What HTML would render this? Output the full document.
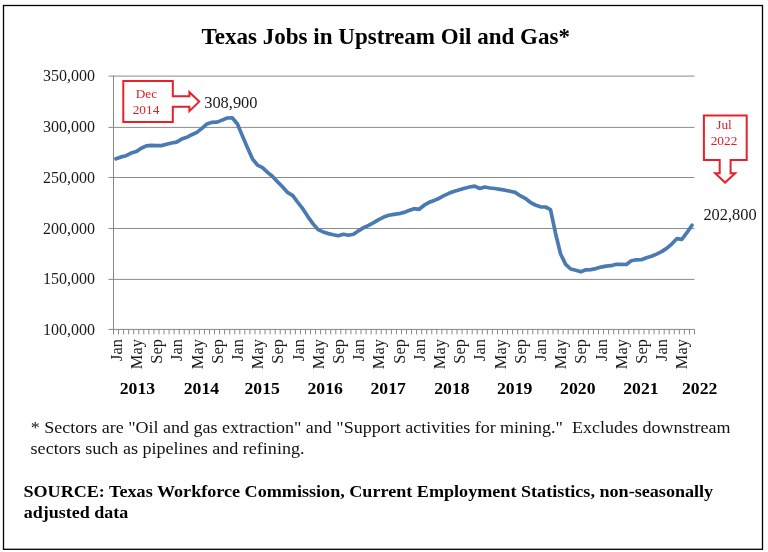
<!DOCTYPE html>
<html><head><meta charset="utf-8"><style>
html,body{margin:0;padding:0;background:#fff;width:768px;height:552px;overflow:hidden}
svg{position:absolute;left:0;top:0}
text{font-family:"Liberation Serif","Times New Roman",serif;white-space:pre;font-variant-ligatures:none}
.t16{font-size:16px;fill:#1a1a1a}
.mo{font-size:16.4px;fill:#1a1a1a}
.yr{font-size:17.7px;font-weight:bold;fill:#000}
.red{font-size:13.3px;fill:#dc2028}
.title{font-size:22.7px;font-weight:bold;fill:#000}
.note{font-size:16px;fill:#111}
.src{font-size:16px;font-weight:bold;fill:#000}
</style></head><body>
<svg width="768" height="552" viewBox="0 0 768 552">
<rect x="3.5" y="5.5" width="759" height="543.8" fill="#fff" stroke="#000" stroke-width="1.3"/>
<line x1="108.5" y1="76.1" x2="694.5" y2="76.1" stroke="#8c8c8c" stroke-width="1"/>
<line x1="108.5" y1="127.4" x2="694.5" y2="127.4" stroke="#8c8c8c" stroke-width="1"/>
<line x1="108.5" y1="177.5" x2="694.5" y2="177.5" stroke="#8c8c8c" stroke-width="1"/>
<line x1="108.5" y1="228.5" x2="694.5" y2="228.5" stroke="#8c8c8c" stroke-width="1"/>
<line x1="108.5" y1="279.4" x2="694.5" y2="279.4" stroke="#8c8c8c" stroke-width="1"/>
<line x1="113.5" y1="75.6" x2="113.5" y2="329.4" stroke="#868686" stroke-width="1"/>
<line x1="108.5" y1="329.4" x2="694.5" y2="329.4" stroke="#868686" stroke-width="1"/>
<line x1="113.50" y1="329.4" x2="113.50" y2="334.4" stroke="#868686" stroke-width="1"/>
<line x1="118.55" y1="329.4" x2="118.55" y2="334.4" stroke="#868686" stroke-width="1"/>
<line x1="123.60" y1="329.4" x2="123.60" y2="334.4" stroke="#868686" stroke-width="1"/>
<line x1="128.66" y1="329.4" x2="128.66" y2="334.4" stroke="#868686" stroke-width="1"/>
<line x1="133.71" y1="329.4" x2="133.71" y2="334.4" stroke="#868686" stroke-width="1"/>
<line x1="138.76" y1="329.4" x2="138.76" y2="334.4" stroke="#868686" stroke-width="1"/>
<line x1="143.81" y1="329.4" x2="143.81" y2="334.4" stroke="#868686" stroke-width="1"/>
<line x1="148.86" y1="329.4" x2="148.86" y2="334.4" stroke="#868686" stroke-width="1"/>
<line x1="153.92" y1="329.4" x2="153.92" y2="334.4" stroke="#868686" stroke-width="1"/>
<line x1="158.97" y1="329.4" x2="158.97" y2="334.4" stroke="#868686" stroke-width="1"/>
<line x1="164.02" y1="329.4" x2="164.02" y2="334.4" stroke="#868686" stroke-width="1"/>
<line x1="169.07" y1="329.4" x2="169.07" y2="334.4" stroke="#868686" stroke-width="1"/>
<line x1="174.12" y1="329.4" x2="174.12" y2="334.4" stroke="#868686" stroke-width="1"/>
<line x1="179.18" y1="329.4" x2="179.18" y2="334.4" stroke="#868686" stroke-width="1"/>
<line x1="184.23" y1="329.4" x2="184.23" y2="334.4" stroke="#868686" stroke-width="1"/>
<line x1="189.28" y1="329.4" x2="189.28" y2="334.4" stroke="#868686" stroke-width="1"/>
<line x1="194.33" y1="329.4" x2="194.33" y2="334.4" stroke="#868686" stroke-width="1"/>
<line x1="199.38" y1="329.4" x2="199.38" y2="334.4" stroke="#868686" stroke-width="1"/>
<line x1="204.44" y1="329.4" x2="204.44" y2="334.4" stroke="#868686" stroke-width="1"/>
<line x1="209.49" y1="329.4" x2="209.49" y2="334.4" stroke="#868686" stroke-width="1"/>
<line x1="214.54" y1="329.4" x2="214.54" y2="334.4" stroke="#868686" stroke-width="1"/>
<line x1="219.59" y1="329.4" x2="219.59" y2="334.4" stroke="#868686" stroke-width="1"/>
<line x1="224.64" y1="329.4" x2="224.64" y2="334.4" stroke="#868686" stroke-width="1"/>
<line x1="229.70" y1="329.4" x2="229.70" y2="334.4" stroke="#868686" stroke-width="1"/>
<line x1="234.75" y1="329.4" x2="234.75" y2="334.4" stroke="#868686" stroke-width="1"/>
<line x1="239.80" y1="329.4" x2="239.80" y2="334.4" stroke="#868686" stroke-width="1"/>
<line x1="244.85" y1="329.4" x2="244.85" y2="334.4" stroke="#868686" stroke-width="1"/>
<line x1="249.90" y1="329.4" x2="249.90" y2="334.4" stroke="#868686" stroke-width="1"/>
<line x1="254.96" y1="329.4" x2="254.96" y2="334.4" stroke="#868686" stroke-width="1"/>
<line x1="260.01" y1="329.4" x2="260.01" y2="334.4" stroke="#868686" stroke-width="1"/>
<line x1="265.06" y1="329.4" x2="265.06" y2="334.4" stroke="#868686" stroke-width="1"/>
<line x1="270.11" y1="329.4" x2="270.11" y2="334.4" stroke="#868686" stroke-width="1"/>
<line x1="275.16" y1="329.4" x2="275.16" y2="334.4" stroke="#868686" stroke-width="1"/>
<line x1="280.22" y1="329.4" x2="280.22" y2="334.4" stroke="#868686" stroke-width="1"/>
<line x1="285.27" y1="329.4" x2="285.27" y2="334.4" stroke="#868686" stroke-width="1"/>
<line x1="290.32" y1="329.4" x2="290.32" y2="334.4" stroke="#868686" stroke-width="1"/>
<line x1="295.37" y1="329.4" x2="295.37" y2="334.4" stroke="#868686" stroke-width="1"/>
<line x1="300.42" y1="329.4" x2="300.42" y2="334.4" stroke="#868686" stroke-width="1"/>
<line x1="305.48" y1="329.4" x2="305.48" y2="334.4" stroke="#868686" stroke-width="1"/>
<line x1="310.53" y1="329.4" x2="310.53" y2="334.4" stroke="#868686" stroke-width="1"/>
<line x1="315.58" y1="329.4" x2="315.58" y2="334.4" stroke="#868686" stroke-width="1"/>
<line x1="320.63" y1="329.4" x2="320.63" y2="334.4" stroke="#868686" stroke-width="1"/>
<line x1="325.68" y1="329.4" x2="325.68" y2="334.4" stroke="#868686" stroke-width="1"/>
<line x1="330.74" y1="329.4" x2="330.74" y2="334.4" stroke="#868686" stroke-width="1"/>
<line x1="335.79" y1="329.4" x2="335.79" y2="334.4" stroke="#868686" stroke-width="1"/>
<line x1="340.84" y1="329.4" x2="340.84" y2="334.4" stroke="#868686" stroke-width="1"/>
<line x1="345.89" y1="329.4" x2="345.89" y2="334.4" stroke="#868686" stroke-width="1"/>
<line x1="350.94" y1="329.4" x2="350.94" y2="334.4" stroke="#868686" stroke-width="1"/>
<line x1="356.00" y1="329.4" x2="356.00" y2="334.4" stroke="#868686" stroke-width="1"/>
<line x1="361.05" y1="329.4" x2="361.05" y2="334.4" stroke="#868686" stroke-width="1"/>
<line x1="366.10" y1="329.4" x2="366.10" y2="334.4" stroke="#868686" stroke-width="1"/>
<line x1="371.15" y1="329.4" x2="371.15" y2="334.4" stroke="#868686" stroke-width="1"/>
<line x1="376.20" y1="329.4" x2="376.20" y2="334.4" stroke="#868686" stroke-width="1"/>
<line x1="381.26" y1="329.4" x2="381.26" y2="334.4" stroke="#868686" stroke-width="1"/>
<line x1="386.31" y1="329.4" x2="386.31" y2="334.4" stroke="#868686" stroke-width="1"/>
<line x1="391.36" y1="329.4" x2="391.36" y2="334.4" stroke="#868686" stroke-width="1"/>
<line x1="396.41" y1="329.4" x2="396.41" y2="334.4" stroke="#868686" stroke-width="1"/>
<line x1="401.46" y1="329.4" x2="401.46" y2="334.4" stroke="#868686" stroke-width="1"/>
<line x1="406.52" y1="329.4" x2="406.52" y2="334.4" stroke="#868686" stroke-width="1"/>
<line x1="411.57" y1="329.4" x2="411.57" y2="334.4" stroke="#868686" stroke-width="1"/>
<line x1="416.62" y1="329.4" x2="416.62" y2="334.4" stroke="#868686" stroke-width="1"/>
<line x1="421.67" y1="329.4" x2="421.67" y2="334.4" stroke="#868686" stroke-width="1"/>
<line x1="426.72" y1="329.4" x2="426.72" y2="334.4" stroke="#868686" stroke-width="1"/>
<line x1="431.78" y1="329.4" x2="431.78" y2="334.4" stroke="#868686" stroke-width="1"/>
<line x1="436.83" y1="329.4" x2="436.83" y2="334.4" stroke="#868686" stroke-width="1"/>
<line x1="441.88" y1="329.4" x2="441.88" y2="334.4" stroke="#868686" stroke-width="1"/>
<line x1="446.93" y1="329.4" x2="446.93" y2="334.4" stroke="#868686" stroke-width="1"/>
<line x1="451.98" y1="329.4" x2="451.98" y2="334.4" stroke="#868686" stroke-width="1"/>
<line x1="457.04" y1="329.4" x2="457.04" y2="334.4" stroke="#868686" stroke-width="1"/>
<line x1="462.09" y1="329.4" x2="462.09" y2="334.4" stroke="#868686" stroke-width="1"/>
<line x1="467.14" y1="329.4" x2="467.14" y2="334.4" stroke="#868686" stroke-width="1"/>
<line x1="472.19" y1="329.4" x2="472.19" y2="334.4" stroke="#868686" stroke-width="1"/>
<line x1="477.24" y1="329.4" x2="477.24" y2="334.4" stroke="#868686" stroke-width="1"/>
<line x1="482.30" y1="329.4" x2="482.30" y2="334.4" stroke="#868686" stroke-width="1"/>
<line x1="487.35" y1="329.4" x2="487.35" y2="334.4" stroke="#868686" stroke-width="1"/>
<line x1="492.40" y1="329.4" x2="492.40" y2="334.4" stroke="#868686" stroke-width="1"/>
<line x1="497.45" y1="329.4" x2="497.45" y2="334.4" stroke="#868686" stroke-width="1"/>
<line x1="502.50" y1="329.4" x2="502.50" y2="334.4" stroke="#868686" stroke-width="1"/>
<line x1="507.56" y1="329.4" x2="507.56" y2="334.4" stroke="#868686" stroke-width="1"/>
<line x1="512.61" y1="329.4" x2="512.61" y2="334.4" stroke="#868686" stroke-width="1"/>
<line x1="517.66" y1="329.4" x2="517.66" y2="334.4" stroke="#868686" stroke-width="1"/>
<line x1="522.71" y1="329.4" x2="522.71" y2="334.4" stroke="#868686" stroke-width="1"/>
<line x1="527.76" y1="329.4" x2="527.76" y2="334.4" stroke="#868686" stroke-width="1"/>
<line x1="532.82" y1="329.4" x2="532.82" y2="334.4" stroke="#868686" stroke-width="1"/>
<line x1="537.87" y1="329.4" x2="537.87" y2="334.4" stroke="#868686" stroke-width="1"/>
<line x1="542.92" y1="329.4" x2="542.92" y2="334.4" stroke="#868686" stroke-width="1"/>
<line x1="547.97" y1="329.4" x2="547.97" y2="334.4" stroke="#868686" stroke-width="1"/>
<line x1="553.02" y1="329.4" x2="553.02" y2="334.4" stroke="#868686" stroke-width="1"/>
<line x1="558.08" y1="329.4" x2="558.08" y2="334.4" stroke="#868686" stroke-width="1"/>
<line x1="563.13" y1="329.4" x2="563.13" y2="334.4" stroke="#868686" stroke-width="1"/>
<line x1="568.18" y1="329.4" x2="568.18" y2="334.4" stroke="#868686" stroke-width="1"/>
<line x1="573.23" y1="329.4" x2="573.23" y2="334.4" stroke="#868686" stroke-width="1"/>
<line x1="578.28" y1="329.4" x2="578.28" y2="334.4" stroke="#868686" stroke-width="1"/>
<line x1="583.34" y1="329.4" x2="583.34" y2="334.4" stroke="#868686" stroke-width="1"/>
<line x1="588.39" y1="329.4" x2="588.39" y2="334.4" stroke="#868686" stroke-width="1"/>
<line x1="593.44" y1="329.4" x2="593.44" y2="334.4" stroke="#868686" stroke-width="1"/>
<line x1="598.49" y1="329.4" x2="598.49" y2="334.4" stroke="#868686" stroke-width="1"/>
<line x1="603.54" y1="329.4" x2="603.54" y2="334.4" stroke="#868686" stroke-width="1"/>
<line x1="608.60" y1="329.4" x2="608.60" y2="334.4" stroke="#868686" stroke-width="1"/>
<line x1="613.65" y1="329.4" x2="613.65" y2="334.4" stroke="#868686" stroke-width="1"/>
<line x1="618.70" y1="329.4" x2="618.70" y2="334.4" stroke="#868686" stroke-width="1"/>
<line x1="623.75" y1="329.4" x2="623.75" y2="334.4" stroke="#868686" stroke-width="1"/>
<line x1="628.80" y1="329.4" x2="628.80" y2="334.4" stroke="#868686" stroke-width="1"/>
<line x1="633.86" y1="329.4" x2="633.86" y2="334.4" stroke="#868686" stroke-width="1"/>
<line x1="638.91" y1="329.4" x2="638.91" y2="334.4" stroke="#868686" stroke-width="1"/>
<line x1="643.96" y1="329.4" x2="643.96" y2="334.4" stroke="#868686" stroke-width="1"/>
<line x1="649.01" y1="329.4" x2="649.01" y2="334.4" stroke="#868686" stroke-width="1"/>
<line x1="654.06" y1="329.4" x2="654.06" y2="334.4" stroke="#868686" stroke-width="1"/>
<line x1="659.12" y1="329.4" x2="659.12" y2="334.4" stroke="#868686" stroke-width="1"/>
<line x1="664.17" y1="329.4" x2="664.17" y2="334.4" stroke="#868686" stroke-width="1"/>
<line x1="669.22" y1="329.4" x2="669.22" y2="334.4" stroke="#868686" stroke-width="1"/>
<line x1="674.27" y1="329.4" x2="674.27" y2="334.4" stroke="#868686" stroke-width="1"/>
<line x1="679.32" y1="329.4" x2="679.32" y2="334.4" stroke="#868686" stroke-width="1"/>
<line x1="684.38" y1="329.4" x2="684.38" y2="334.4" stroke="#868686" stroke-width="1"/>
<line x1="689.43" y1="329.4" x2="689.43" y2="334.4" stroke="#868686" stroke-width="1"/>
<line x1="694.48" y1="329.4" x2="694.48" y2="334.4" stroke="#868686" stroke-width="1"/>
<text x="95" y="81.4" text-anchor="end" class="t16">350,000</text>
<text x="95" y="132.1" text-anchor="end" class="t16">300,000</text>
<text x="95" y="182.9" text-anchor="end" class="t16">250,000</text>
<text x="95" y="234.2" text-anchor="end" class="t16">200,000</text>
<text x="95" y="284.1" text-anchor="end" class="t16">150,000</text>
<text x="95" y="335.1" text-anchor="end" class="t16">100,000</text>
<text transform="translate(121.6,339.1) rotate(-90)" text-anchor="end" class="mo">Jan</text>
<text transform="translate(141.8,339.1) rotate(-90)" text-anchor="end" class="mo">May</text>
<text transform="translate(162.0,339.1) rotate(-90)" text-anchor="end" class="mo">Sep</text>
<text transform="translate(182.2,339.1) rotate(-90)" text-anchor="end" class="mo">Jan</text>
<text transform="translate(202.5,339.1) rotate(-90)" text-anchor="end" class="mo">May</text>
<text transform="translate(222.7,339.1) rotate(-90)" text-anchor="end" class="mo">Sep</text>
<text transform="translate(242.9,339.1) rotate(-90)" text-anchor="end" class="mo">Jan</text>
<text transform="translate(263.1,339.1) rotate(-90)" text-anchor="end" class="mo">May</text>
<text transform="translate(283.3,339.1) rotate(-90)" text-anchor="end" class="mo">Sep</text>
<text transform="translate(303.5,339.1) rotate(-90)" text-anchor="end" class="mo">Jan</text>
<text transform="translate(323.7,339.1) rotate(-90)" text-anchor="end" class="mo">May</text>
<text transform="translate(343.9,339.1) rotate(-90)" text-anchor="end" class="mo">Sep</text>
<text transform="translate(364.1,339.1) rotate(-90)" text-anchor="end" class="mo">Jan</text>
<text transform="translate(384.3,339.1) rotate(-90)" text-anchor="end" class="mo">May</text>
<text transform="translate(404.5,339.1) rotate(-90)" text-anchor="end" class="mo">Sep</text>
<text transform="translate(424.7,339.1) rotate(-90)" text-anchor="end" class="mo">Jan</text>
<text transform="translate(445.0,339.1) rotate(-90)" text-anchor="end" class="mo">May</text>
<text transform="translate(465.2,339.1) rotate(-90)" text-anchor="end" class="mo">Sep</text>
<text transform="translate(485.4,339.1) rotate(-90)" text-anchor="end" class="mo">Jan</text>
<text transform="translate(505.6,339.1) rotate(-90)" text-anchor="end" class="mo">May</text>
<text transform="translate(525.8,339.1) rotate(-90)" text-anchor="end" class="mo">Sep</text>
<text transform="translate(546.0,339.1) rotate(-90)" text-anchor="end" class="mo">Jan</text>
<text transform="translate(566.2,339.1) rotate(-90)" text-anchor="end" class="mo">May</text>
<text transform="translate(586.4,339.1) rotate(-90)" text-anchor="end" class="mo">Sep</text>
<text transform="translate(606.6,339.1) rotate(-90)" text-anchor="end" class="mo">Jan</text>
<text transform="translate(626.8,339.1) rotate(-90)" text-anchor="end" class="mo">May</text>
<text transform="translate(647.0,339.1) rotate(-90)" text-anchor="end" class="mo">Sep</text>
<text transform="translate(667.2,339.1) rotate(-90)" text-anchor="end" class="mo">Jan</text>
<text transform="translate(687.4,339.1) rotate(-90)" text-anchor="end" class="mo">May</text>
<text x="119.7" y="394" class="yr">2013</text>
<text x="183.7" y="394" class="yr">2014</text>
<text x="244.5" y="394" class="yr">2015</text>
<text x="307.5" y="394" class="yr">2016</text>
<text x="370.5" y="394" class="yr">2017</text>
<text x="434.2" y="394" class="yr">2018</text>
<text x="497.0" y="394" class="yr">2019</text>
<text x="560.1" y="394" class="yr">2020</text>
<text x="623.25" y="394" class="yr">2021</text>
<text x="682.0" y="394" class="yr">2022</text>
<polyline points="116.0,158.8 121.1,156.9 126.1,155.7 131.2,153.1 136.2,151.6 141.3,148.2 146.3,145.9 151.4,145.4 156.4,145.6 161.5,145.6 166.5,144.3 171.6,143.0 176.6,142.2 181.7,139.1 186.8,137.3 191.8,134.7 196.9,132.4 201.9,128.4 207.0,123.9 212.0,122.3 217.1,122.1 222.1,120.1 227.2,118.0 232.2,117.8 237.3,123.7 242.3,135.6 247.4,147.5 252.4,158.8 257.5,165.2 262.5,167.6 267.6,172.4 272.6,176.5 277.7,181.9 282.7,187.0 287.8,192.7 292.8,195.7 297.9,202.5 302.9,208.9 308.0,216.8 313.1,223.9 318.1,229.6 323.2,231.9 328.2,233.6 333.3,234.8 338.3,235.7 343.4,234.3 348.4,235.3 353.5,234.2 358.5,230.8 363.6,227.7 368.6,225.4 373.7,222.7 378.7,219.7 383.8,217.1 388.8,215.3 393.9,214.4 398.9,213.7 404.0,212.4 409.0,210.6 414.1,208.7 419.1,209.3 424.2,205.2 429.2,202.3 434.3,200.4 439.4,198.2 444.4,195.4 449.5,193.1 454.5,191.2 459.6,189.7 464.6,188.3 469.7,187.0 474.7,186.1 479.8,188.5 484.8,187.0 489.9,188.0 494.9,188.5 500.0,189.4 505.0,190.2 510.1,191.2 515.1,192.4 520.2,195.7 525.2,198.3 530.3,202.3 535.3,205.0 540.4,206.8 545.4,207.0 550.5,209.7 555.5,233.2 560.6,254.0 565.7,264.4 570.7,269.0 575.8,270.3 580.8,271.8 585.9,269.8 590.9,269.6 596.0,268.6 601.0,267.1 606.1,266.1 611.1,265.7 616.2,264.3 621.2,264.3 626.3,264.5 631.3,260.7 636.4,259.8 641.4,259.7 646.5,257.7 651.5,256.3 656.6,254.1 661.6,251.6 666.7,248.4 671.7,244.1 676.8,238.7 681.8,239.4 686.9,232.7 692.0,225.2" fill="none" stroke="#4a7ab2" stroke-width="3.7" stroke-linejoin="round" stroke-linecap="round"/>
<path d="M123.3,81.1 H172.8 V96.2 H189.4 V92.2 L199.2,101.6 L189.4,111.2 V106.8 H172.8 V121.9 H123.3 Z" fill="#fff" stroke="#e5222a" stroke-width="2"/>
<text x="146.4" y="97.5" text-anchor="middle" class="red">Dec</text>
<text x="146" y="113.7" text-anchor="middle" class="red">2014</text>
<path d="M703.9,115.4 H746.7 V159.9 H730.6 V173.3 H735.2 L725.1,182.6 L715.2,173.3 H719.7 V159.9 H703.9 Z" fill="#fff" stroke="#e5222a" stroke-width="2"/>
<text x="724" y="129.2" text-anchor="middle" class="red">Jul</text>
<text x="724" y="145.3" text-anchor="middle" class="red">2022</text>
<text x="204.2" y="107.8" class="t16" textLength="53.3" lengthAdjust="spacingAndGlyphs">308,900</text>
<text x="703.4" y="219.6" class="t16" textLength="53.3" lengthAdjust="spacingAndGlyphs">202,800</text>
<text x="201.60" y="43.9" class="title" textLength="368.35" lengthAdjust="spacingAndGlyphs">Texas Jobs in Upstream Oil and Gas*</text>
<text x="30.80" y="433.2" class="note" textLength="699.60" lengthAdjust="spacingAndGlyphs">* Sectors are &quot;Oil and gas extraction&quot; and &quot;Support activities for mining.&quot;  Excludes downstream</text>
<text x="30.60" y="454.2" class="note" textLength="273.90" lengthAdjust="spacingAndGlyphs">sectors such as pipelines and refining.</text>
<text x="23.40" y="497.0" class="src" textLength="689.80" lengthAdjust="spacingAndGlyphs">SOURCE: Texas Workforce Commission, Current Employment Statistics, non-seasonally</text>
<text x="23.80" y="517.7" class="src" textLength="104.50" lengthAdjust="spacingAndGlyphs">adjusted data</text>
</svg>
</body></html>
